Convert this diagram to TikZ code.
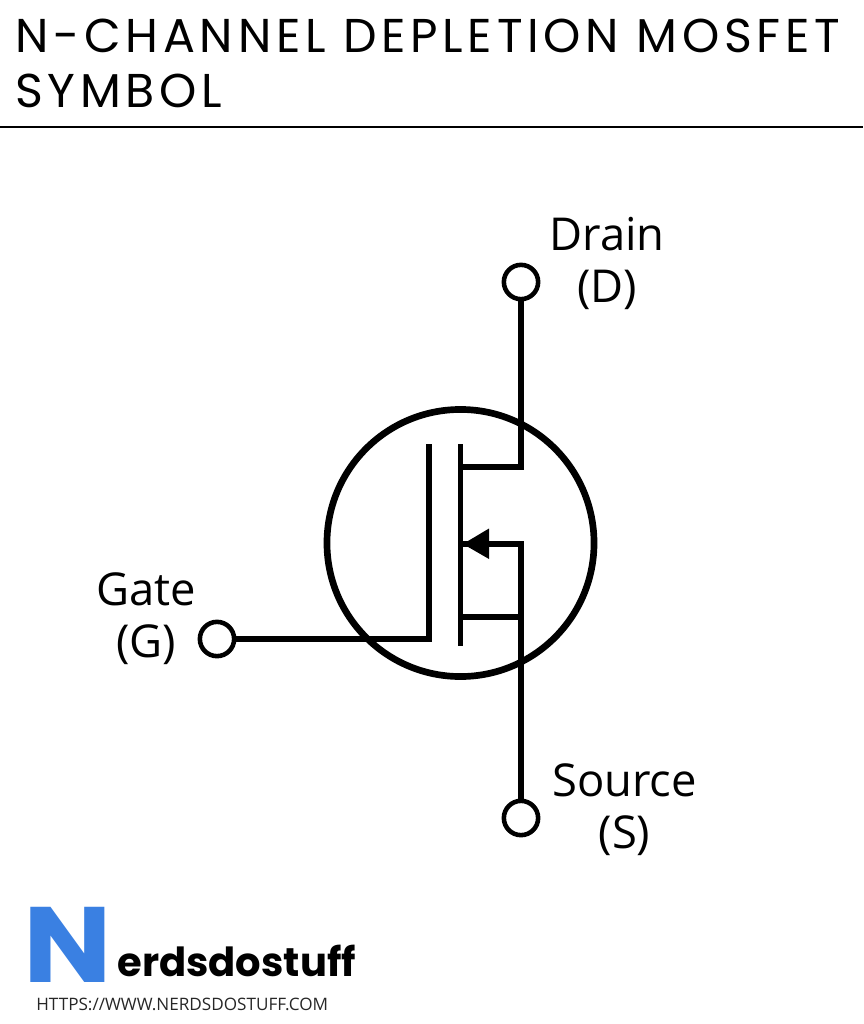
\documentclass[tikz,border=0pt]{standalone}
\usepackage{fontspec}
\usetikzlibrary{calc,positioning,arrows.meta}
\newfontfamily\titlefont[LetterSpace=10]{Poppins}
\newfontfamily\logofont[BoldFont={* Bold}]{Poppins}
\newfontfamily\labelfont{Open Sans}
\tikzset{
    wire/.style={line width=3.4pt},
    pin/.style={circle,draw,line width=2.6pt,fill=white,minimum size=19.5pt,inner sep=0pt},
    pinlabel/.style={font=\labelfont\fontsize{25.8}{29.6}\selectfont,align=center,inner sep=0pt}
}
\definecolor{logoblue}{HTML}{3A80E2}
\begin{document}
\begin{tikzpicture}[x=0.02cm,y=-0.02cm]
    \useasboundingbox (0,0) rectangle (863,1024);
    \node[anchor=west,inner sep=0pt,font=\titlefont\fontsize{27}{27}\selectfont] at (15,36) (title1) {N-CHANNEL DEPLETION MOSFET};
    \node[anchor=west,inner sep=0pt,font=\titlefont\fontsize{27}{27}\selectfont] at (15,91) (title2) {SYMBOL};
    \coordinate (ruleL) at (0,127);
    \coordinate (ruleR) at (863,127);
    \draw[line width=1.1pt] (ruleL) -- (ruleR);

    \node at (460.5,543) (body) [circle,draw,line width=3.8pt,minimum size=152pt,inner sep=0pt] {};

    \node at (521,282) (drain) [pin] {};
    \node at (521,818) (source) [pin] {};
    \node at (217,639) (gate) [pin] {};
    \coordinate (gtop) at (429,444);
    \coordinate (gbot) at (429,641);
    \coordinate (ctop) at (460.5,444);
    \coordinate (cbot) at (460.5,646);
    \coordinate (dstub) at (460.5,467);
    \coordinate (mstub) at (463,544);
    \coordinate (sstub) at (460.5,617);
    \coordinate (dcorner) at (521,467);
    \coordinate (mcorner) at (521,544);
    \coordinate (scorner) at (521,617);

    \draw[wire] (gate) -- (gate -| gbot) -- (gtop);
    \draw[wire] (ctop) -- (cbot);
    \draw[wire] (drain) -- (dcorner) -- (dstub);
    \draw[wire] (source) -- (mcorner) -- (mstub);
    \draw[wire] (sstub) -- (scorner);
    \fill (463,544) -- (489,528.5) -- (489,559) -- cycle;

    \node[pinlabel] at (607,263) (drainlabel) {Drain\\(D)};
    \node[pinlabel] at (624.5,810) (sourcelabel) {Source\\(S)};
    \node[pinlabel] at (146,618.5) (gatelabel) {Gate\\(G)};

    \node[anchor=north west,inner sep=0pt,xscale=1.1,text=logoblue,font=\logofont\bfseries\fontsize{61}{61}\selectfont] at (23,907) (logoN) {N};
    \node[anchor=west,inner sep=0pt,font=\logofont\bfseries\fontsize{22.8}{24}\selectfont] at (117,961) (logotext) {erdsdostuff};
    \node[anchor=west,inner sep=0pt,text=black!85,font=\labelfont\fontsize{9.75}{10}\selectfont] at (36,1004) (url) {HTTPS://WWW.NERDSDOSTUFF.COM};
\end{tikzpicture}
\end{document}
